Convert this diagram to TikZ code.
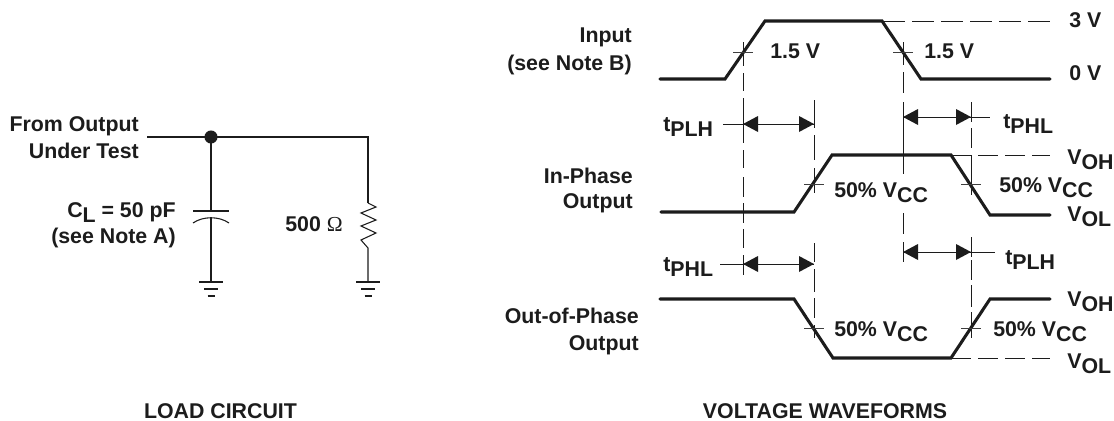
\documentclass[tikz,border=0pt]{standalone}
\usepackage{fontspec}
\setmainfont{Liberation Sans}
\newfontfamily\omegafont{Liberation Serif}
\usetikzlibrary{calc}
\definecolor{ink}{HTML}{1C1C1C}
\newcommand{\lowsub}[2]{#1\raisebox{-3.75pt}{#2}}
\newcommand{\tsub}[1]{t\raisebox{-3.75pt}{#1}}
\tikzset{
  x=0.75pt,y=-0.75pt,
  lbl/.style={font=\bfseries\fontsize{16}{18}\selectfont,text=ink,inner sep=0pt,anchor=base},
  lblr/.style={lbl,anchor=base east},
  lbll/.style={lbl,anchor=base west},
  wire/.style={draw=ink,line width=0.8pt},
  wave/.style={draw=ink,line width=2.3pt,line join=miter,line cap=round},
  guide/.style={draw=ink,line width=0.7pt},
  hdash/.style={draw=ink,line width=0.7pt,dash pattern=on 15pt off 5.25pt},
  hdashlong/.style={draw=ink,line width=0.7pt,dash pattern=on 16.5pt off 5.25pt},
  tick/.style={draw=ink!85,line width=0.7pt},
  meas/.style={draw=ink,line width=0.7pt},
  head/.style={fill=ink,draw=none},
}
\newcommand{\gnd}[1]{%
  \draw[wire] ($(#1)+(-12,0)$) -- ($(#1)+(12,0)$);
  \draw[wire] ($(#1)+(-7,7)$) -- ($(#1)+(7,7)$);
  \draw[wire] ($(#1)+(-3.5,14)$) -- ($(#1)+(3.5,14)$);
}
\newcommand{\harrow}[3]{% left x, right x, y
  \fill[head] (#1,#3) -- (#1+15,#3-8) -- (#1+15,#3+8) -- cycle;
  \fill[head] (#2,#3) -- (#2-15,#3-8) -- (#2-15,#3+8) -- cycle;
  \draw[meas] (#1,#3) -- (#2,#3);
}
\newcommand{\vsegs}[2]{% x, list of a/b
  \foreach \ya/\yb in {#2} {\draw[guide] (#1,\ya) -- (#1,\yb);}
}
\begin{document}
\begin{tikzpicture}
\useasboundingbox (0,0) rectangle (1114,421);
% load circuit
\coordinate (wstart) at (147,137);
\coordinate (jn) at (211,137);
\coordinate (corner) at (368,137);
\coordinate (rtop) at (368,203);
\coordinate (rbot) at (368,248);
\coordinate (gr) at (368,282);
\coordinate (cp1) at (211,211);
\coordinate (cp2) at (211,217);
\coordinate (gc) at (211,282);
\draw[wire] (wstart) -- (jn) -- (corner) -- (rtop);
\draw[wire] (rtop) -- (376,207) -- (361,213) -- (376,220) -- (361,226) -- (376,233) -- (361,240) -- (rbot) -- (gr);
\fill[ink] (jn) circle (4.9pt);
\draw[wire] (jn) -- (cp1);
\draw[wire] (193,211) -- (229,211);
\draw[wire] (193,223) .. controls (203,216) and (219,216) .. (229,223);
\draw[wire] (cp2) -- (gc);
\gnd{gc}
\gnd{gr}
\node[lblr] (from) at (139,131) {From Output};
\node[lblr] (under) at (139,158) {Under Test};
\node[lblr] (cl) at (176,217) {\lowsub{C}{L} = 50 pF};
\node[lblr] (noteA) at (176,243) {(see Note A)};
\node[lblr] (res) at (343,231) {500 {\omegafont\mdseries\char"03A9}};
\node[lbl] (load) at (220.5,418) {LOAD CIRCUIT};
\node[lbl] (volt) at (825,418) {VOLTAGE WAVEFORMS};
% vertical dashed guides
\vsegs{743}{42/66,73/91,98/143,150/168,177/197,203/223,229/248,255/275}
\vsegs{814}{100/128,135/160,168/193,243/262,269/292,298/318,325/338}
\vsegs{903}{42/65,72/93,102/174,213/234,242/262}
\vsegs{971}{102/122,128/148,155/195,237/257,260/280,285/307,312/338}
% horizontal dashes
\draw[hdashlong] (883,21) -- (1050,21);
\draw[hdash] (951,155) -- (1050,155);
\draw[hdash] (951,358) -- (1050,358);
% waveforms
\draw[wave] (660,79) -- (725,79) -- (765,21) -- (882,21) -- (921,79) -- (1050,79);
\draw[wave] (661,212) -- (794,212) -- (832,155) -- (951,155) -- (990,215) -- (1050,215);
\draw[wave] (660,299) -- (794,299) -- (833,358) -- (951,358) -- (990,299) -- (1050,299);
% ticks
\draw[tick] (733,52) -- (753,52);
\draw[tick] (893,52) -- (913,52);
\draw[tick] (804,184) -- (824,184);
\draw[tick] (961,184) -- (981,184);
\draw[tick] (804,328) -- (824,328);
\draw[tick] (961,328) -- (981,328);
% measurement arrows
\harrow{743}{814}{124}
\draw[meas] (723,124) -- (743,124);
\harrow{903}{971}{117}
\draw[meas] (971,117) -- (990,117);
\harrow{743}{814}{264}
\draw[meas] (720,264) -- (743,264);
\harrow{903}{971}{252}
\draw[meas] (971,252) -- (995,252);
% waveform labels
\node[lblr] (input) at (632,42) {Input};
\node[lblr] (noteB) at (632,70) {(see Note B)};
\node[lblr] (inph) at (633,183) {In-Phase};
\node[lblr] (inout) at (633,208) {Output};
\node[lblr] (outph) at (639,323) {Out-of-Phase};
\node[lblr] (outout) at (639,350) {Output};
\node[lbll] (a) at (770,58) {1.5 V};
\node[lbll] (b) at (924,58) {1.5 V};
\node[lbll] (c) at (1069,27) {3 V};
\node[lbll] (d) at (1069,80) {0 V};
\node[lbll] (e) at (663,131) {\tsub{PLH}};
\node[lbll] (f) at (1003,128) {\tsub{PHL}};
\node[lbll] (g) at (663,271) {\tsub{PHL}};
\node[lbll] (h) at (1005,264) {\tsub{PLH}};
\node[lbll] (i) at (834,197) {50\% \lowsub{V}{CC}};
\node[lbll] (j) at (999,192) {50\% \lowsub{V}{CC}};
\node[lbll] (k) at (834,336) {50\% \lowsub{V}{CC}};
\node[lbll] (l) at (993,336) {50\% \lowsub{V}{CC}};
\node[lbll] (m) at (1067,164) {\lowsub{V}{OH}};
\node[lbll] (n) at (1067,221) {\lowsub{V}{OL}};
\node[lbll] (o) at (1067,306) {\lowsub{V}{OH}};
\node[lbll] (p) at (1067,368) {\lowsub{V}{OL}};
\end{tikzpicture}
\end{document}
